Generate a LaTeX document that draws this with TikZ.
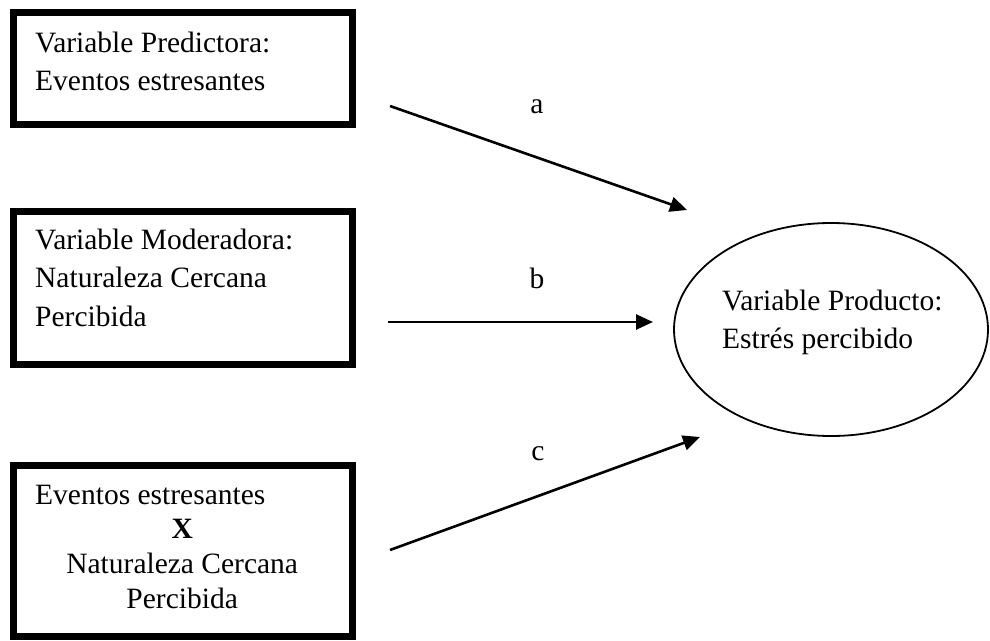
\documentclass[tikz,border=0pt]{standalone}
\usepackage{fontspec}
\setmainfont{Liberation Serif}
\usetikzlibrary{arrows.meta,shapes.geometric}
\tikzset{
  varbox/.style={draw=black, line width=7pt, rectangle, inner sep=0pt, minimum width=339pt},
  outcome/.style={draw=black, line width=1.8pt, ellipse, inner sep=0pt,
    minimum width=314pt, minimum height=213pt},
  boxtext/.style={font=\fontsize{29.5}{38.5}\selectfont, inner sep=0pt,
    anchor=base west, text width=300pt, align=flush left},
  pathlabel/.style={font=\fontsize{29.5}{35}\selectfont, inner sep=0pt, anchor=base},
  link/.style={line width=2.6pt, -{Triangle[length=17pt,width=15pt]}}
}
\begin{document}
\begin{tikzpicture}[x=1pt,y=-1pt]
  % page area
  \path[fill=white, use as bounding box] (0,0) rectangle (990,640);

  % predictor, moderator and interaction boxes
  \node[varbox, minimum height=112pt] (pred) at (183,68.5) {};
  \node[boxtext] (predtext) at (35,52) {Variable Predictora:\\Eventos estresantes};

  \node[varbox, minimum height=153pt] (mod) at (183,288) {};
  \node[boxtext] (modtext) at (35,249) {Variable Moderadora:\\Naturaleza Cercana\\Percibida};

  \node[varbox, minimum height=171pt] (inter) at (183,551) {};
  \node[boxtext, text width=294pt, align=flush center,
        font=\fontsize{29.5}{34.7}\selectfont] (intertext) at (35,504)
    {\makebox[\linewidth][l]{Eventos estresantes}\\\textbf{X}\\Naturaleza Cercana\\Percibida};

  % outcome
  \node[outcome] (out) at (831,329.5) {};
  \node[boxtext] (outtext) at (722,310) {Variable Producto:\\Estrés percibido};

  % path ends
  \coordinate (aS) at (390,106);
  \coordinate (aE) at (687,210);
  \coordinate (bS) at (388,322);
  \coordinate (bE) at (653,322);
  \coordinate (cS) at (390,550);
  \coordinate (cE) at (700,437);

  \draw[link] (aS) -- (aE);
  \draw[link] (bS) -- (bE);
  \draw[link] (cS) -- (cE);

  % path labels
  \node[pathlabel] (la) at (537,113) {a};
  \node[pathlabel] (lb) at (537,288) {b};
  \node[pathlabel] (lc) at (538,460) {c};
\end{tikzpicture}
\end{document}
